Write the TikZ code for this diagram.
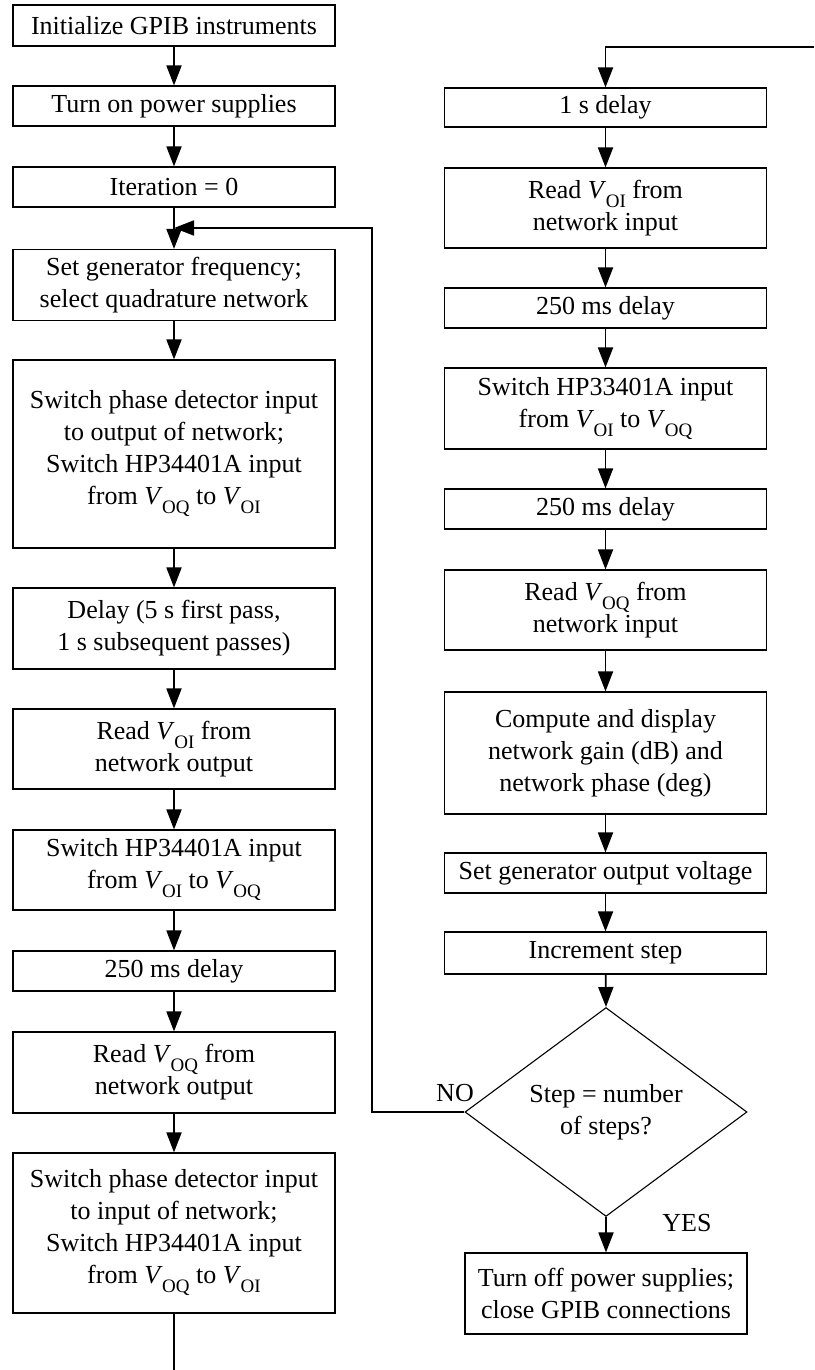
\documentclass[tikz,border=0pt]{standalone}
\usepackage{fontspec}
\setmainfont{Liberation Serif}
\usetikzlibrary{arrows.meta,shapes.geometric}
\newcommand{\Vs}[1]{\textit{V}\kern-0.5pt\raisebox{-9pt}{\fontsize{19}{19}\selectfont #1}}
\begin{document}
\begin{tikzpicture}[x=1pt,y=-1pt,
  box/.style={draw,line width=1.1pt,minimum width=322pt,inner sep=0pt,align=center,font=\fontsize{26}{32}\selectfont},
  conn/.style={line width=1.8pt,-{Triangle[length=20pt,width=15pt]}},
  plain/.style={line width=1.8pt},
  lbl/.style={inner sep=0pt,font=\fontsize{26}{32}\selectfont}]
\useasboundingbox (0,0) rectangle (814,1370);
% left column
\node[box,minimum height=41pt] (b1) at (174,25.5) {Initialize GPIB instruments};
\node[box,minimum height=40pt] (b2) at (174,106) {Turn on power supplies};
\node[box,minimum height=40pt] (b3) at (174,187) {Iteration = 0};
\node[box,minimum height=71pt] (b4) at (174,285) {Set generator frequency;\\select quadrature network};
\node[box,minimum height=188pt] (b5) at (174,454) {Switch phase detector input\\to output of network;\\Switch HP34401A input\\from \Vs{OQ} to \Vs{OI}};
\node[box,minimum height=81pt] (b6) at (174,628.5) {Delay (5 s first pass,\\1 s subsequent passes)};
\node[box,minimum height=80pt] (b7) at (174,749) {Read \Vs{OI} from\\network output};
\node[box,minimum height=80pt] (b8) at (174,870) {Switch HP34401A input\\from \Vs{OI} to \Vs{OQ}};
\node[box,minimum height=40pt] (b9) at (174,971) {250 ms delay};
\node[box,minimum height=81pt] (b10) at (174,1072.5) {Read \Vs{OQ} from\\network output};
\node[box,minimum height=160pt] (b11) at (174,1233) {Switch phase detector input\\to input of network;\\Switch HP34401A input\\from \Vs{OQ} to \Vs{OI}};
% right column
\node[box,minimum height=39pt] (r1) at (605.5,107.5) {1 s delay};
\node[box,minimum height=80pt] (r2) at (605.5,208) {Read \Vs{OI} from\\network input};
\node[box,minimum height=40pt] (r3) at (605.5,308) {250 ms delay};
\node[box,minimum height=81pt] (r4) at (605.5,408.5) {Switch HP33401A input\\from \Vs{OI} to \Vs{OQ}};
\node[box,minimum height=40pt] (r5) at (605.5,509) {250 ms delay};
\node[box,minimum height=80pt] (r6) at (605.5,610) {Read \Vs{OQ} from\\network input};
\node[box,minimum height=122pt] (r7) at (605.5,753) {Compute and display\\network gain (dB) and\\network phase (deg)};
\node[box,minimum height=40pt] (r8) at (605.5,873) {Set generator output voltage};
\node[box,minimum height=42pt] (r9) at (605.5,953) {Increment step};
\node[draw,line width=1.1pt,shape=diamond,minimum width=282pt,minimum height=200pt,inner sep=0pt,align=center,font=\fontsize{26}{32}\selectfont] (d) at (606,1112) {Step = number\\of steps?};
\node[box,minimum width=282pt,minimum height=81pt] (fin) at (606,1293.5) {Turn off power supplies;\\close GPIB connections};
\node[lbl] (no) at (455,1093) {NO};
\node[lbl] (yes) at (687,1223) {YES};
% connectors
\draw[conn] (b1) -- (b2);
\draw[conn] (b2) -- (b3);
\draw[conn] (b3) -- (b4);
\draw[conn] (b4) -- (b5);
\draw[conn] (b5) -- (b6);
\draw[conn] (b6) -- (b7);
\draw[conn] (b7) -- (b8);
\draw[conn] (b8) -- (b9);
\draw[conn] (b9) -- (b10);
\draw[conn] (b10) -- (b11);
\coordinate (bl) at (174,1370);
\draw[plain] (b11) -- (bl);
\coordinate (tr) at (814,47);
\draw[conn] (tr) -| (r1.north);
\draw[conn] (r1) -- (r2);
\draw[conn] (r2) -- (r3);
\draw[conn] (r3) -- (r4);
\draw[conn] (r4) -- (r5);
\draw[conn] (r5) -- (r6);
\draw[conn] (r6) -- (r7);
\draw[conn] (r7) -- (r8);
\draw[conn] (r8) -- (r9);
\draw[conn] (r9) -- (d.north);
\draw[conn] (d.south) -- (fin);
\coordinate (lp) at (372,228);
\coordinate (j) at (174,228);
\draw[conn] (d.west) -| (lp) -- (j);
\end{tikzpicture}
\end{document}
